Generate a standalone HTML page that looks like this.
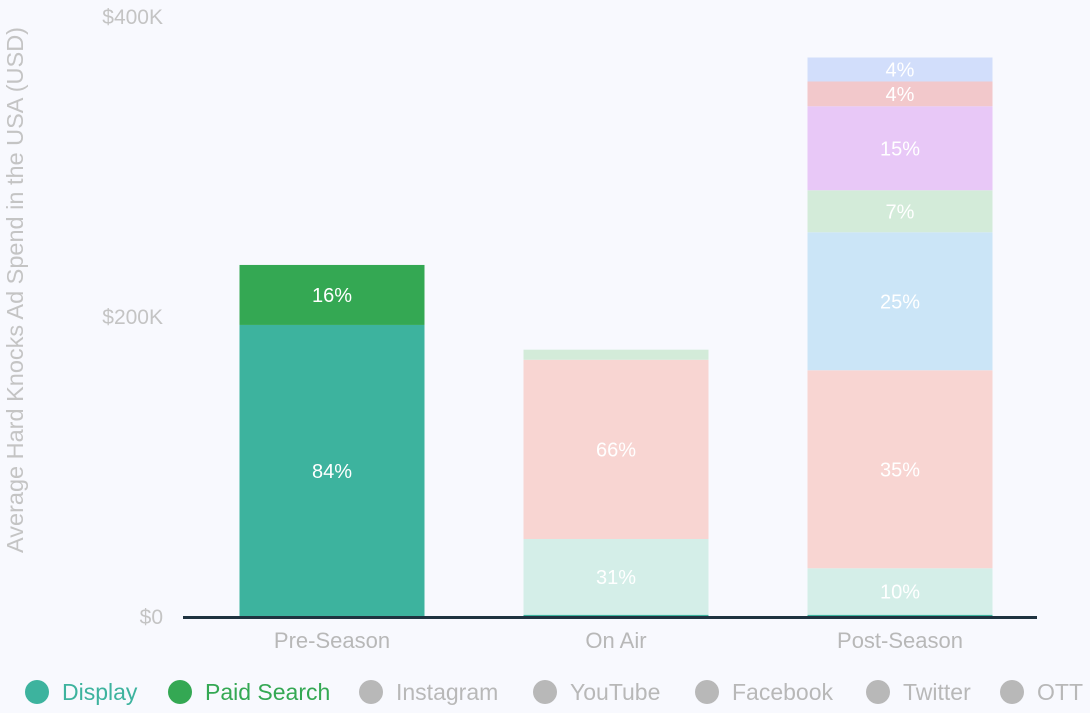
<!DOCTYPE html>
<html><head><meta charset="utf-8"><style>
body{margin:0;background:#f8f9fe;font-family:"Liberation Sans",sans-serif;}
svg{display:block}
</style></head><body>
<svg id="c" width="1090" height="713">
<rect width="1090" height="713" fill="#f8f9fe"/>
</svg>
<script>
const categories=["Pre-Season","On Air","Post-Season"];
const seriesNames=["Display","Paid Search","Instagram","YouTube","Facebook","Twitter","OTT","Other"];
const displayVals=[194.7,1.5,1.5];
const paidSearchVals=[40,0,0];
const instagramVals=[0,50.5,31];
const youtubeVals=[0,119.5,132];
const facebookVals=[0,6.7,0];
const twitterVals=[0,0,92];
const ottVals=[0,0,28];
const otherVals=[0,0,56];
const extra1Vals=[0,0,16.5];
const extra2Vals=[0,0,16];
const pctLabels=[["84%","16%","","","","","","","",""],["","","31%","66%","","","","","",""],["","","10%","35%","","25%","7%","15%","4%","4%"]];
const yTicks=[0,200,400];
const yTickLabels=["$0","$200K","$400K"];
const series=[displayVals,paidSearchVals,instagramVals,youtubeVals,facebookVals,twitterVals,ottVals,otherVals,extra1Vals,extra2Vals];
const colors=["#3db39e","#34a853","#d4eee8","#f8d5d2","#d3ebd9","#cbe5f7","#d3ebd9","#e8c8f7","#f2c8cb","#d2defb"];
const svg=document.getElementById('c');
const NS="http://www.w3.org/2000/svg";
const y0=617,pxPerK=300/200;
const y=v=>y0-v*pxPerK;
const bandL=190,bandW=284,barW=185;
const xc=i=>bandL+bandW*i+bandW/2;
function mk(t,a){const e=document.createElementNS(NS,t);for(const k in a)e.setAttribute(k,a[k]);svg.appendChild(e);return e;}
yTicks.forEach((t,i)=>{const e=mk('text',{x:163,y:y(t)+7,'text-anchor':'end','font-size':21,fill:'#c4c4c4'});e.textContent=yTickLabels[i];

});
const yt=mk('text',{x:0,y:0,transform:'translate(23,290) rotate(-90)','text-anchor':'middle','font-size':23.5,fill:'#c4c4c4'});
yt.textContent="Average Hard Knocks Ad Spend in the USA (USD)";


categories.forEach((c,i)=>{let acc=0;const x=xc(i)-barW/2;
series.forEach((s,j)=>{const v=s[i];if(!v)return;const r=mk('rect',{x:x,y:y(acc+v),width:barW,height:v*pxPerK,fill:colors[j]});


const lab=pctLabels[i][j];if(lab){const t=mk('text',{x:xc(i),y:y(acc+v/2)+7,'text-anchor':'middle','font-size':20,fill:'#fff'});t.textContent=lab;

}
acc+=v;});
const tl=mk('text',{x:xc(i),y:648,'text-anchor':'middle','font-size':22,fill:'#b8b8b8'});tl.textContent=c;

});
const ax=mk('rect',{x:183,y:616,width:854,height:3,fill:'#1f3340'});


const legend=[["Display","#3db39e","#3db39e",25],["Paid Search","#34a853","#34a853",168],["Instagram","#b8b8b8","#b8b8b8",359],["YouTube","#b8b8b8","#b8b8b8",533],["Facebook","#b8b8b8","#b8b8b8",695],["Twitter","#b8b8b8","#b8b8b8",866],["OTT","#b8b8b8","#b8b8b8",1000]];
legend.forEach(l=>{const c=mk('circle',{cx:l[3]+12,cy:692,r:12,fill:l[1]});


const t=mk('text',{x:l[3]+37,y:700,'font-size':23,fill:l[2]});t.textContent=l[0];

});
</script>
</body></html>
